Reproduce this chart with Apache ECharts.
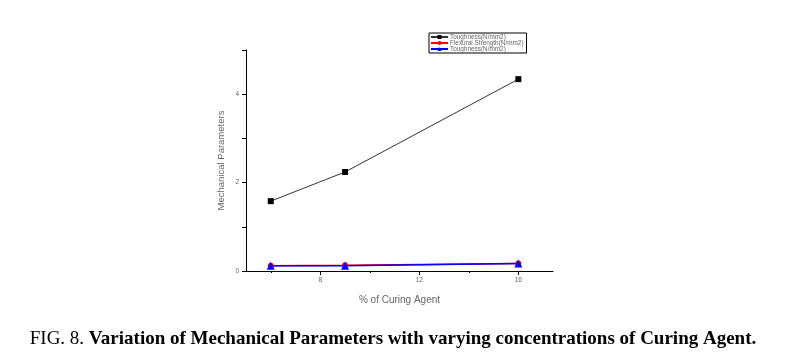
<!DOCTYPE html>
<html>
<head>
<meta charset="utf-8">
<script src="https://cdn.jsdelivr.net/npm/echarts@6/dist/echarts.min.js"></script>
<style>
html,body{margin:0;padding:0;background:#fff;}
#c{width:786px;height:356px;}
</style>
</head>
<body>
<div id="c"></div>
<script>
var curingAgent = [6, 9, 16];
var toughnessBlack = [1.58, 2.24, 4.34];
var flexuralRed = [0.12, 0.13, 0.17];
var toughnessBlue = [0.12, 0.12, 0.17];
var seriesNames = ['Toughness(N/mm2)', 'Flexural Strength(N/mm2)', 'Toughness(N/mm2) '];
var xMajorTicks = [8, 12, 16];
var xMinorTicks = [6, 10, 14];
var yLabels = [0, 2, 4];

function pairs(xs, ys) { return xs.map(function (x, i) { return [x, ys[i]]; }); }

var chart = echarts.init(document.getElementById('c'), null, {renderer: 'canvas'});
var axisTextColor = '#666';
chart.setOption({
  animation: false,
  backgroundColor: '#fff',
  grid: {left: 246, right: 233, top: 50, bottom: 85, containLabel: false},
  legend: {
    orient: 'vertical', left: 429, top: 33,
    itemWidth: 17, itemHeight: 5, itemGap: 0,
    padding: [1, 3, 1, 1],
    borderColor: '#000', borderWidth: 1,
    textStyle: {fontSize: 6.4, color: '#666', fontFamily: 'Liberation Sans', padding: [0, 0, 0, -3]},
    data: seriesNames.map(function (n) { return {name: n}; })
  },
  xAxis: [{
    type: 'value', min: 5, max: 17.4,
    name: '% of Curing Agent', nameLocation: 'middle', nameGap: 24,
    nameTextStyle: {fontSize: 10, color: axisTextColor, fontFamily: 'Liberation Sans'},
    axisLine: {show: true, lineStyle: {color: '#000', width: 1}},
    axisTick: {show: true, length: 4, lineStyle: {color: '#000'}, customValues: xMajorTicks},
    axisLabel: {fontSize: 6.5, color: axisTextColor, margin: 6, fontFamily: 'Liberation Sans', customValues: xMajorTicks},
    splitLine: {show: false}
  }, {
    type: 'value', min: 5, max: 17.4, position: 'top', offset: -221,
    axisLine: {show: false},
    axisTick: {show: true, inside: true, length: 2, lineStyle: {color: '#000'}, customValues: xMinorTicks},
    axisLabel: {show: false},
    splitLine: {show: false}
  }],
  yAxis: {
    type: 'value', min: 0, max: 5, interval: 1,
    name: 'Mechanical Parameters', nameLocation: 'middle', nameGap: 20,
    nameTextStyle: {fontSize: 9.5, color: axisTextColor, fontFamily: 'Liberation Sans'},
    axisLine: {show: true, lineStyle: {color: '#000', width: 1}},
    axisTick: {show: true, length: 4, lineStyle: {color: '#000'}},
    axisLabel: {fontSize: 6.5, color: axisTextColor, margin: 7, fontFamily: 'Liberation Sans',
      formatter: function (v) { return yLabels.indexOf(v) >= 0 ? String(v) : ''; }},
    splitLine: {show: false}
  },
  series: [{
    name: seriesNames[0], type: 'line', data: pairs(curingAgent, toughnessBlack),
    symbol: 'rect', symbolSize: 6, itemStyle: {color: '#000'},
    lineStyle: {color: '#333', width: 1}
  }, {
    name: seriesNames[1], type: 'line', data: pairs(curingAgent, flexuralRed),
    symbol: 'circle', symbolSize: 6, itemStyle: {color: '#ff0000'},
    lineStyle: {color: '#ff0000', width: 1.5}
  }, {
    name: seriesNames[2], type: 'line', data: pairs(curingAgent, toughnessBlue),
    symbol: 'triangle', symbolSize: 8, itemStyle: {color: '#0000ff'},
    lineStyle: {color: '#0000ff', width: 1.5}
  }],
  graphic: [{
    type: 'text', left: 'center', top: 330,
    style: {
      text: '{n|FIG. 8. }{b|Variation of Mechanical Parameters with varying concentrations of Curing Agent.}',
      rich: {
        n: {fontFamily: 'Liberation Serif', fontSize: 19, color: '#000'},
        b: {fontFamily: 'Liberation Serif', fontSize: 19, fontWeight: 'bold', color: '#000'}
      }
    }
  }]
});
</script>
</body>
</html>
